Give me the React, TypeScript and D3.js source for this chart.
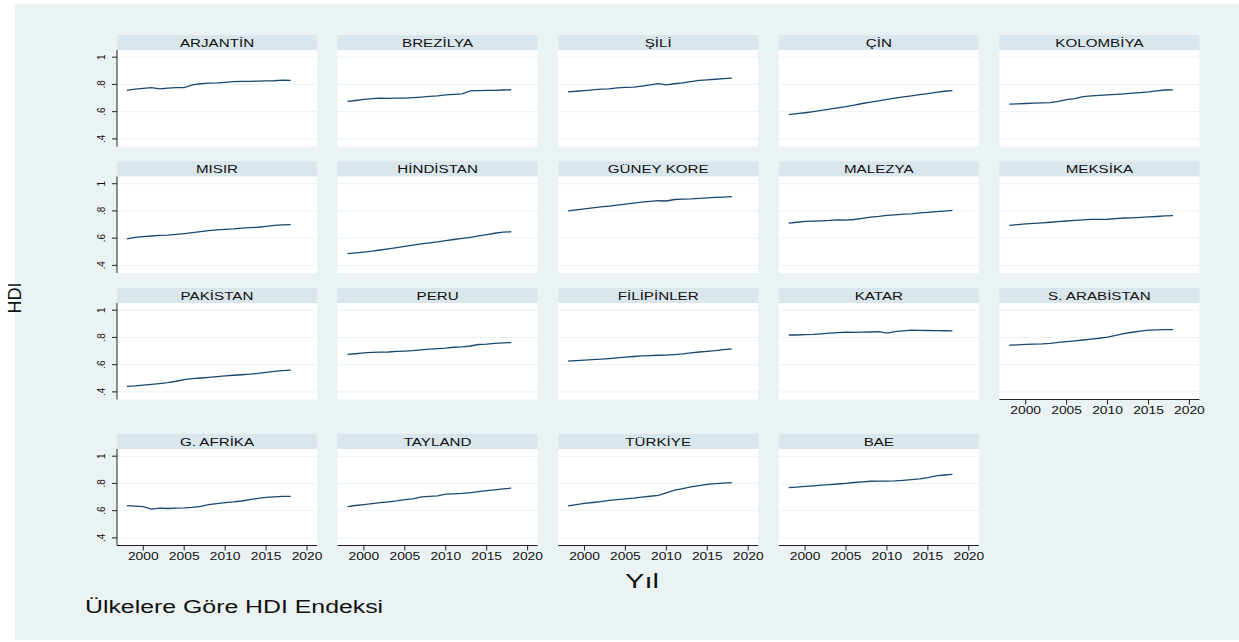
import React from 'react';
import * as d3 from 'd3';

// years on the x axis
const years = [1998, 1999, 2000, 2001, 2002, 2003, 2004, 2005, 2006, 2007, 2008, 2009, 2010, 2011, 2012, 2013, 2014, 2015, 2016, 2017, 2018];

// HDI series, one array per country
const arjantin = [0.757, 0.766, 0.771, 0.776, 0.768, 0.773, 0.777, 0.777, 0.797, 0.805, 0.81, 0.811, 0.815, 0.82, 0.823, 0.823, 0.824, 0.826, 0.827, 0.832, 0.83];
const brezilya = [0.675, 0.682, 0.69, 0.695, 0.699, 0.697, 0.699, 0.7, 0.703, 0.707, 0.712, 0.716, 0.723, 0.727, 0.731, 0.752, 0.755, 0.756, 0.757, 0.759, 0.761];
const sili = [0.745, 0.75, 0.755, 0.76, 0.765, 0.768, 0.775, 0.779, 0.78, 0.788, 0.797, 0.806, 0.797, 0.805, 0.812, 0.821, 0.83, 0.834, 0.838, 0.843, 0.847];
const cin = [0.578, 0.585, 0.592, 0.6, 0.609, 0.618, 0.628, 0.637, 0.648, 0.66, 0.67, 0.68, 0.69, 0.699, 0.708, 0.716, 0.725, 0.733, 0.741, 0.75, 0.755];
const kolombiya = [0.655, 0.657, 0.66, 0.663, 0.665, 0.666, 0.675, 0.688, 0.695, 0.71, 0.716, 0.72, 0.724, 0.727, 0.731, 0.736, 0.74, 0.745, 0.752, 0.759, 0.76];
const misir = [0.595, 0.606, 0.612, 0.616, 0.62, 0.623, 0.628, 0.634, 0.641, 0.648, 0.655, 0.661, 0.665, 0.668, 0.673, 0.678, 0.68, 0.687, 0.694, 0.697, 0.7];
const hindistan = [0.487, 0.492, 0.498, 0.504, 0.513, 0.522, 0.531, 0.54, 0.549, 0.558, 0.565, 0.572, 0.582, 0.59, 0.598, 0.606, 0.616, 0.626, 0.636, 0.644, 0.647];
const guneyKore = [0.8, 0.808, 0.815, 0.823, 0.83, 0.836, 0.843, 0.85, 0.857, 0.864, 0.87, 0.875, 0.873, 0.884, 0.887, 0.889, 0.893, 0.896, 0.899, 0.902, 0.905];
const malezya = [0.711, 0.717, 0.723, 0.725, 0.727, 0.73, 0.735, 0.733, 0.737, 0.746, 0.755, 0.76, 0.767, 0.771, 0.776, 0.779, 0.785, 0.79, 0.795, 0.799, 0.804];
const meksika = [0.694, 0.699, 0.705, 0.709, 0.713, 0.717, 0.721, 0.726, 0.731, 0.735, 0.738, 0.738, 0.739, 0.744, 0.748, 0.749, 0.752, 0.756, 0.759, 0.763, 0.766];
const pakistan = [0.441, 0.444, 0.449, 0.455, 0.461, 0.468, 0.478, 0.49, 0.497, 0.502, 0.507, 0.512, 0.518, 0.522, 0.526, 0.53, 0.536, 0.544, 0.55, 0.556, 0.56];
const peru = [0.675, 0.68, 0.686, 0.69, 0.692, 0.693, 0.697, 0.7, 0.703, 0.708, 0.714, 0.718, 0.722, 0.728, 0.731, 0.737, 0.748, 0.751, 0.757, 0.76, 0.762];
const filipinler = [0.626, 0.63, 0.634, 0.637, 0.64, 0.645, 0.65, 0.655, 0.66, 0.664, 0.667, 0.669, 0.67, 0.674, 0.679, 0.686, 0.693, 0.698, 0.703, 0.711, 0.716];
const katar = [0.818, 0.818, 0.82, 0.822, 0.826, 0.831, 0.835, 0.838, 0.837, 0.839, 0.84, 0.842, 0.832, 0.842, 0.848, 0.853, 0.852, 0.851, 0.85, 0.849, 0.848];
const sArabistan = [0.743, 0.746, 0.749, 0.751, 0.753, 0.757, 0.763, 0.769, 0.775, 0.781, 0.788, 0.794, 0.803, 0.815, 0.828, 0.838, 0.846, 0.853, 0.856, 0.857, 0.857];
const gAfrika = [0.637, 0.634, 0.63, 0.612, 0.618, 0.616, 0.618, 0.62, 0.624, 0.632, 0.644, 0.652, 0.659, 0.664, 0.671, 0.681, 0.69, 0.697, 0.702, 0.705, 0.705];
const tayland = [0.63, 0.638, 0.645, 0.652, 0.659, 0.665, 0.672, 0.681, 0.686, 0.702, 0.705, 0.709, 0.722, 0.724, 0.727, 0.733, 0.74, 0.747, 0.753, 0.76, 0.765];
const turkiye = [0.635, 0.645, 0.653, 0.66, 0.667, 0.675, 0.681, 0.686, 0.692, 0.7, 0.706, 0.712, 0.731, 0.751, 0.762, 0.774, 0.784, 0.793, 0.798, 0.803, 0.806];
const bae = [0.769, 0.773, 0.778, 0.782, 0.787, 0.791, 0.796, 0.801, 0.807, 0.812, 0.816, 0.817, 0.817, 0.819, 0.823, 0.828, 0.834, 0.843, 0.856, 0.862, 0.866];

const countries = ['ARJANTİN', 'BREZİLYA', 'ŞİLİ', 'ÇİN', 'KOLOMBİYA', 'MISIR', 'HİNDİSTAN', 'GÜNEY KORE', 'MALEZYA', 'MEKSİKA', 'PAKİSTAN', 'PERU', 'FİLİPİNLER', 'KATAR', 'S. ARABİSTAN', 'G. AFRİKA', 'TAYLAND', 'TÜRKİYE', 'BAE'];
const series = [arjantin, brezilya, sili, cin, kolombiya, misir, hindistan, guneyKore, malezya, meksika, pakistan, peru, filipinler, katar, sArabistan, gAfrika, tayland, turkiye, bae];

const xTicks = [2000, 2005, 2010, 2015, 2020];
const yTicks = [0.4, 0.6, 0.8, 1];
const yTickLabels = ['.4', '.6', '.8', '1'];

const W = 1239;
const H = 642;
const font = '"Liberation Sans", Arial, sans-serif';
const stretch = 1.38; // the source picture is squeezed wide

const colLeft = [117, 337.6, 558.2, 778.8, 999.4];
const rowTop = [35, 161.5, 288, 434];
const panelW = 200;
const stripH = 15;
const plotH = 96.5;

const x = d3.scaleLinear().domain([1996.79, 2021.22]).range([0, panelW]);
const y = d3.scaleLinear().domain([0.344, 1.053]).range([plotH, 0]);

const line = d3
  .line<number>()
  .x((_, i) => x(years[i]))
  .y((d) => y(d));

const Panel = ({ idx }: { idx: number }) => {
  const col = idx % 5;
  const row = Math.floor(idx / 5);
  const left = colLeft[col];
  const top = rowTop[row];
  const showX = row === 3 || (row === 2 && col === 4);
  const showY = col === 0;
  return (
    <g transform={`translate(${left},${top})`}>
      <rect x={0} y={0} width={panelW} height={stripH} fill="#d9e6eb" />
      <text
        transform={`translate(${panelW / 2},${stripH / 2 + 4}) scale(${stretch},1)`}
        textAnchor="middle"
        fontSize={11}
        fill="#111"
        fontFamily={font}
      >
        {countries[idx]}
      </text>
      <g transform={`translate(0,${stripH})`}>
        <rect x={0} y={0} width={panelW} height={plotH} fill="#fff" />
        {yTicks.map((t) => (
          <line key={t} x1={0} x2={panelW} y1={y(t)} y2={y(t)} stroke="#eaf2f3" strokeWidth={1} />
        ))}
        <path d={line(series[idx]) ?? ''} fill="none" stroke="#1a476f" strokeWidth={1.3} />
        {showY && (
          <g>
            <line x1={0} x2={0} y1={0} y2={plotH} stroke="#222" strokeWidth={1} />
            {yTicks.map((t, i) => (
              <g key={t}>
                <line x1={-5} x2={0} y1={y(t)} y2={y(t)} stroke="#222" strokeWidth={1} />
                <text
                  transform={`translate(${-12},${y(t)}) rotate(-90)`}
                  textAnchor="middle"
                  fontSize={10}
                  fill="#111"
                  fontFamily={font}
                >
                  {yTickLabels[i]}
                </text>
              </g>
            ))}
          </g>
        )}
        {showX && (
          <g>
            <line x1={0} x2={panelW} y1={plotH} y2={plotH} stroke="#222" strokeWidth={1} />
            {xTicks.map((t) => (
              <g key={t}>
                <line x1={x(t)} x2={x(t)} y1={plotH} y2={plotH + 5} stroke="#222" strokeWidth={1} />
                <text
                  transform={`translate(${x(t)},${plotH + 14.5}) scale(${stretch},1)`}
                  textAnchor="middle"
                  fontSize={10}
                  fill="#111"
                  fontFamily={font}
                >
                  {t}
                </text>
              </g>
            ))}
          </g>
        )}
      </g>
    </g>
  );
};

const App = () => {
  return (
    <svg
      width={W}
      height={H}
      style={{ position: 'absolute', left: 0, top: 0, background: '#fff' }}
    >
      <rect x={15} y={4} width={W - 15} height={636} fill="#eaf2f3" />
      {countries.map((c, i) => (
        <Panel key={c} idx={i} />
      ))}
      <text
        transform={`translate(642,588) scale(${stretch},1)`}
        textAnchor="middle"
        fontSize={21}
        fill="#111"
        fontFamily={font}
      >
        Yıl
      </text>
      <text
        transform={`translate(21,298) rotate(-90)`}
        textAnchor="middle"
        fontSize={18}
        fill="#111"
        fontFamily={font}
      >
        HDI
      </text>
      <text
        transform={`translate(85,613) scale(${stretch},1)`}
        fontSize={18}
        fill="#111"
        fontFamily={font}
      >
        Ülkelere Göre HDI Endeksi
      </text>
    </svg>
  );
};

export default App;
